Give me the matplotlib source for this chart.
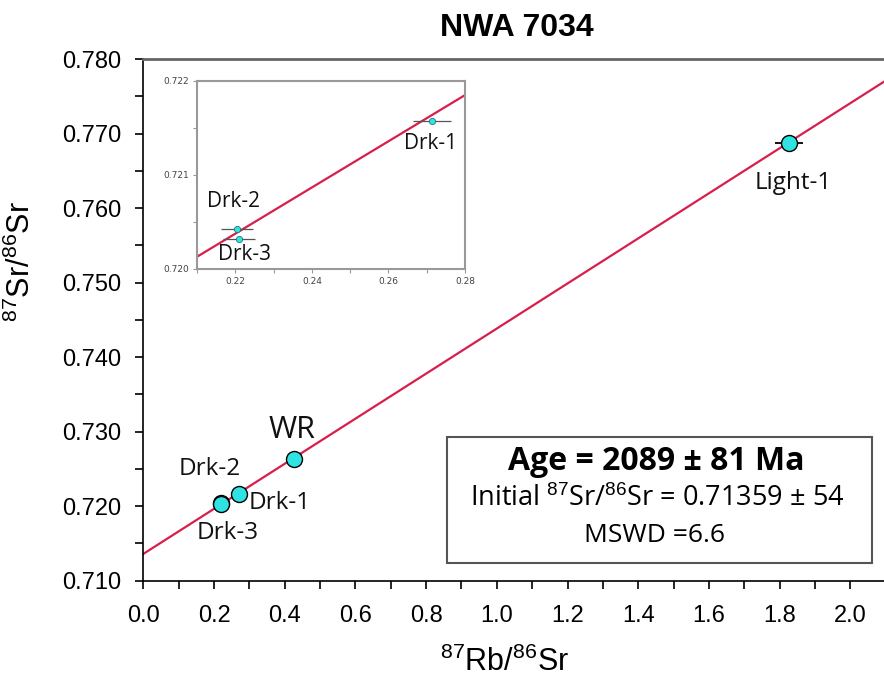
import numpy as np
import matplotlib
matplotlib.use('Agg')
import matplotlib.pyplot as plt
from matplotlib.patches import Rectangle
from matplotlib.ticker import MultipleLocator, FormatStrFormatter

# sample data (87Rb/86Sr, 87Sr/86Sr)
names = ['Light-1', 'WR', 'Drk-1', 'Drk-2', 'Drk-3']
rb = [1.827, 0.426, 0.2713, 0.2204, 0.2210]
sr = [0.76876, 0.72634, 0.72157, 0.72043, 0.72032]
rb_err = [0.04, 0.0, 0.005, 0.0041, 0.0041]

# isochron
initial = 0.71359
slope = 0.03026
# isochron as drawn in the inset
inset_x = [0.21, 0.28]
inset_y = [0.72013, 0.72185]

label_font = 'Open Sans'
tick_font = 'Liberation Sans'
cyan = '#2fe3e3'
red = '#d81e4c'

plt.rcParams['mathtext.fontset'] = 'custom'
plt.rcParams['mathtext.rm'] = tick_font

fig = plt.figure(figsize=(8.84, 6.77), dpi=100)
ax = fig.add_axes([0.1621, 0.1423, 0.8379, 0.7702])

xx = np.array([0.0, 2.2])
ax.plot(xx, initial + slope * xx, color=red, lw=1.6, zorder=2)
ax.errorbar(rb[:2], sr[:2], xerr=rb_err[:2], fmt='none', ecolor='black', elinewidth=1.3, zorder=3)
ax.plot(rb, sr, 'o', ms=11.5, mfc=cyan, mec='black', mew=1.0, zorder=4)

ax.set_xlim(0, 2.095)
ax.set_ylim(0.710, 0.780)
ax.xaxis.set_major_locator(MultipleLocator(0.2))
ax.xaxis.set_minor_locator(MultipleLocator(0.1))
ax.yaxis.set_major_locator(MultipleLocator(0.010))
ax.yaxis.set_minor_locator(MultipleLocator(0.005))
ax.xaxis.set_major_formatter(FormatStrFormatter('%.1f'))
ax.yaxis.set_major_formatter(FormatStrFormatter('%.3f'))
ax.tick_params(axis='x', which='both', direction='out', length=5.5, width=1.2, labelsize=17, pad=12)
ax.tick_params(axis='y', which='both', direction='out', length=6, width=1.2, labelsize=17, pad=10)
for lab in ax.get_xticklabels() + ax.get_yticklabels():
    lab.set_fontfamily(tick_font)
ax.spines['right'].set_visible(False)
ax.spines['top'].set_color('#666666')
ax.spines['top'].set_linewidth(2)
ax.spines['left'].set_linewidth(1.2)
ax.spines['bottom'].set_linewidth(1.2)

ax.set_xlabel('$^{87}$Rb/$^{86}$Sr', fontsize=22, fontfamily=tick_font)
ax.set_ylabel('$^{87}$Sr/$^{86}$Sr', fontsize=22, fontfamily=tick_font)
ax.xaxis.set_label_coords(0.488, -0.127)
ax.yaxis.set_label_coords(-0.1435, 0.611)
fig.text(517 / 884, 1 - 27.5 / 677, 'NWA 7034', ha='center', va='center', fontsize=23,
         fontweight='bold', fontfamily=tick_font)

# point labels
lab_pos = {'Light-1': (1.838, 0.76339, 17.5), 'WR': (0.4207, 0.73023, 22),
           'Drk-2': (0.1887, 0.72499, 17.5), 'Drk-1': (0.3867, 0.72043, 17.5),
           'Drk-3': (0.2396, 0.71640, 17.5)}
for n, (px, py, fs) in lab_pos.items():
    ax.text(px, py, n, ha='center', va='center', fontsize=fs, fontfamily=label_font, color='#111111')

# result box
ax.add_patch(Rectangle((447, 677 - 563), 425, 126, transform=None, fill=True, fc='white',
                       ec='#555555', lw=1.5, zorder=5))
fig.text(656 / 884, 1 - 470 / 677, 'Age = 2089 ± 81 Ma', ha='center', va='baseline',
         fontsize=23, fontweight='bold', fontfamily=label_font, zorder=6)
fig.text(657 / 884, 1 - 506.5 / 677, 'Initial $^{87}$Sr/$^{86}$Sr = 0.71359 ± 54', ha='center',
         va='baseline', fontsize=19.5, fontfamily=label_font, zorder=6)
fig.text(654 / 884, 1 - 541.5 / 677, 'MSWD =6.6', ha='center', va='baseline',
         fontsize=19, fontfamily=label_font, zorder=6)

# inset
ins = fig.add_axes([197 / 884, 1 - 269 / 677, 268 / 884, 188 / 677])
ins.plot(inset_x, inset_y, color=red, lw=1.6, zorder=2)
ins.errorbar(rb[2:], sr[2:], xerr=rb_err[2:], fmt='none', ecolor='#555555', elinewidth=0.9, zorder=3)
ins.plot(rb[2:], sr[2:], 'o', ms=4.5, mfc=cyan, mec='#227777', mew=0.6, zorder=4)
ins.set_xlim(0.21, 0.28)
ins.set_ylim(0.720, 0.722)
ins.set_xticks([0.22, 0.24, 0.26, 0.28])
ins.set_yticks([0.720, 0.721, 0.722])
ins.xaxis.set_minor_locator(MultipleLocator(0.01))
ins.yaxis.set_minor_locator(MultipleLocator(0.0005))
ins.xaxis.set_major_formatter(FormatStrFormatter('%.2f'))
ins.yaxis.set_major_formatter(FormatStrFormatter('%.3f'))
ins.tick_params(which='both', direction='out', length=3, width=0.8, color='#999999',
                labelsize=6.5, labelcolor='#444444', pad=3)
for s in ins.spines.values():
    s.set_color('#999999')
    s.set_linewidth(1.5)
ins_lab = {'Drk-1': (0.2711, 0.72134), 'Drk-2': (0.2195, 0.72072), 'Drk-3': (0.2225, 0.72015)}
for n, (px, py) in ins_lab.items():
    ins.text(px, py, n, ha='center', va='center', fontsize=15, fontfamily=label_font, color='#111111')

fig.savefig('out.png', dpi=100)
